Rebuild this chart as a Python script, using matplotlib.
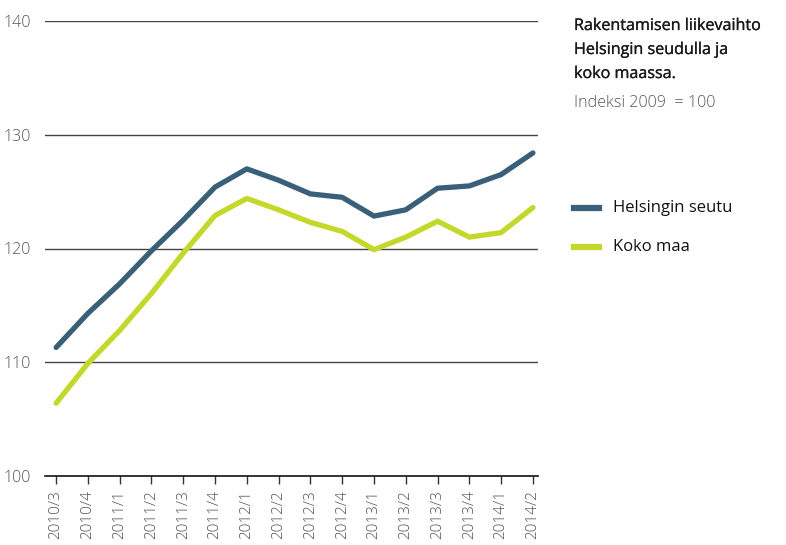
import matplotlib
matplotlib.use("Agg")
import matplotlib.pyplot as plt
from matplotlib.lines import Line2D
import matplotlib.patheffects as pe

quarters = ["2010/3", "2010/4", "2011/1", "2011/2", "2011/3", "2011/4", "2012/1", "2012/2",
            "2012/3", "2012/4", "2013/1", "2013/2", "2013/3", "2013/4", "2014/1", "2014/2"]
helsinki = [111.3, 114.3, 116.9, 119.8, 122.5, 125.4, 127.0, 126.0,
            124.8, 124.5, 122.85, 123.4, 125.3, 125.5, 126.5, 128.4]
koko_maa = [106.4, 109.9, 112.8, 116.05, 119.6, 122.9, 124.4, 123.4,
            122.3, 121.5, 119.9, 121.0, 122.4, 121.0, 121.4, 123.6]
yticks = [100, 110, 120, 130, 140]
series_names = ["Helsingin seutu", "Koko maa"]
title_lines = ["Rakentamisen liikevaihto", "Helsingin seudulla ja", "koko maassa."]
subtitle = "Indeksi 2009  = 100"

plt.rcParams['font.family'] = ['Open Sans', 'DejaVu Sans']

blue = "#3a6079"
green = "#c2d82b"

fig = plt.figure(figsize=(7.86, 5.45), dpi=100)
ax = fig.add_axes([45/786, 1 - 476/545, (538-45)/786, (476-21)/545])

x = list(range(len(quarters)))
ax.plot(x, helsinki, color=blue, lw=3.8, solid_capstyle='round', solid_joinstyle='round', zorder=3)
ax.plot(x, koko_maa, color=green, lw=3.8, solid_capstyle='round', solid_joinstyle='round', zorder=3)

ax.set_xlim(-0.35, 15.16)
ax.set_ylim(100, 140)
ax.set_yticks(yticks)
ax.set_yticklabels([str(v) for v in yticks], color="#555555", fontsize=11.5, fontweight='light')
for v in yticks[1:]:
    ax.axhline(v, color="#444444", lw=1.0, zorder=1)

ax.set_xticks(x)
ax.set_xticklabels(quarters, rotation=90, color="#555555", fontsize=11, fontweight='light')
ax.tick_params(axis='y', length=0, pad=10)
ax.tick_params(axis='x', length=6, width=1, color="#333333", pad=4)

for s in ['top', 'right', 'left']:
    ax.spines[s].set_visible(False)
ax.spines['bottom'].set_color("#111111")
ax.spines['bottom'].set_linewidth(1.2)

stroke = [pe.withStroke(linewidth=0.2, foreground="#1a1a1a")]
for i, line in enumerate(title_lines):
    fig.text(574/786, 1 - (30 + 24*i)/545, line, ha='left', va='baseline', fontsize=11.6,
             color="#1a1a1a", path_effects=stroke)
fig.text(574/786, 1 - 107/545, subtitle, ha='left', va='baseline', fontsize=11.6,
         fontweight='light', color="#555555")

for yy, col, name in [(208, blue, series_names[0]), (247, green, series_names[1])]:
    fig.add_artist(Line2D([574/786, 599/786], [1 - yy/545, 1 - yy/545], color=col, lw=4.5,
                          transform=fig.transFigure))
    fig.text(613/786, 1 - yy/545, name, ha='left', va='center', fontsize=12,
             color="#111111")

fig.savefig("out.png", dpi=100)
